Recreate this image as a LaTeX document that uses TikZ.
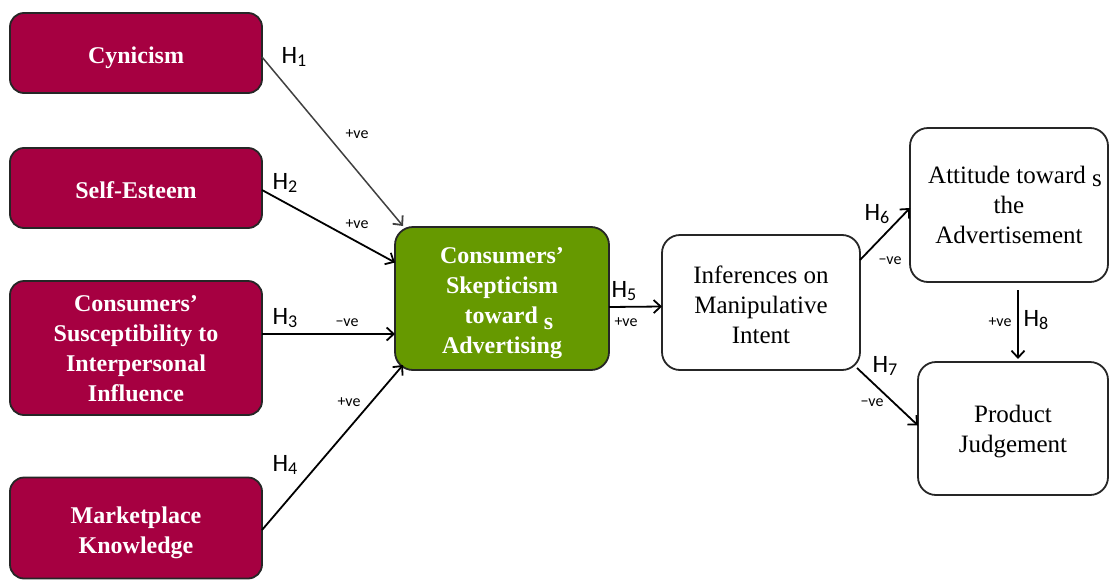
\documentclass[tikz,border=0pt]{standalone}
\usepackage{fontspec}
\setmainfont{Liberation Serif}
\newfontfamily\hfont{Carlito}
\usetikzlibrary{arrows.meta,calc}
\definecolor{maroon}{RGB}{166,0,65}
\definecolor{leaf}{RGB}{102,153,0}
\newcommand{\hyp}[1]{{\hfont\fontsize{25}{25}\selectfont H\raisebox{-3.5pt}{\fontsize{18}{18}\selectfont #1}}}
\tikzset{
  box/.style={draw=black!85, line width=1.8pt, rounded corners=14pt, inner sep=0pt, outer sep=0pt},
  cause/.style={box, fill=maroon},
  core/.style={box, fill=leaf, rounded corners=18pt},
  effect/.style={box, fill=white, rounded corners=18pt},
  boldtxt/.style={text=white, align=center, inner sep=0pt, font=\fontsize{24}{30}\selectfont\bfseries},
  plaintxt/.style={text=black, align=center, inner sep=0pt, font=\fontsize{25}{30}\selectfont},
  arr/.style={line width=1.8pt, -{Straight Barb[length=7pt,width=13pt,line width=1.8pt]}},
  sign/.style={font=\hfont\fontsize{16}{16}\selectfont, inner sep=0pt},
  hlab/.style={inner sep=0pt}
}
\begin{document}
\begin{tikzpicture}[x=1pt,y=-1pt]
\useasboundingbox (0,0) rectangle (1111,581);

% antecedents
\node[cause, minimum width=252, minimum height=80,
  label={[boldtxt, yshift=-5pt]center:Cynicism}] (cyn) at (136,53) {};
\node[cause, minimum width=252, minimum height=80,
  label={[boldtxt, yshift=-2pt]center:Self-Esteem}] (self) at (136,188) {};
\node[cause, minimum width=252, minimum height=134,
  label={[boldtxt, yshift=-1pt]center:{Consumers'\\Susceptibility to\\Interpersonal\\Influence}}] (susc) at (136,348) {};
\node[cause, minimum width=252, minimum height=101,
  label={[boldtxt, yshift=-5pt]center:{Marketplace\\Knowledge}}] (mkt) at (136,528) {};

% central construct
\node[core, minimum width=214, minimum height=143,
  label={[boldtxt, yshift=-5pt]center:{Consumers'\\Skepticism\\\hspace*{14pt}toward \raisebox{-6pt}{s}\\Advertising}}]
  (skep) at (502,298.5) {};

% outcomes
\node[effect, minimum width=198, minimum height=135,
  label={[plaintxt, yshift=-2pt]center:{Inferences on\\Manipulative\\Intent}}] (inf) at (761,302.5) {};
\node[effect, minimum width=198, minimum height=154,
  label={[plaintxt, yshift=0pt]center:{\hspace*{12pt}Attitude toward \raisebox{-3pt}{s}\\the\\Advertisement}}]
  (att) at (1009,205) {};
\node[effect, minimum width=190, minimum height=133,
  label={[plaintxt, yshift=-3pt]center:{Product\\Judgement}}] (prod) at (1013,428.5) {};

% paths
\draw[arr, black!75, line width=1.5pt] ($(cyn.east)+(0,4)$) -- ($(skep.north west)+(8,-1)$);
\draw[arr] ($(self.east)+(0,2)$) -- ($(skep.west)+(0,-36)$);
\draw[arr] ($(susc.east)+(0,-14)$) -- ($(skep.west)+(0,35.5)$);
\draw[arr] ($(mkt.east)+(0,2)$) -- ($(skep.south west)+(8,-5)$);
\draw[arr] ($(skep.east)+(0,8.5)$) -- ($(inf.west)+(0,4)$);
\draw[arr] ($(inf.north east)+(0,25)$) -- ($(att.west)+(0,3)$);
\draw[arr] ($(inf.south east)+(-3,-2)$) -- ($(prod.west)+(0,-3)$);
\draw[arr] ($(att.south)+(9,8)$) -- ($(prod.north)+(5,-3)$);

% hypothesis labels
\node[hlab] (h1) at (294,57) {\hyp{1}};
\node[hlab] (h2) at (285,183) {\hyp{2}};
\node[hlab] (h3) at (285,318) {\hyp{3}};
\node[hlab] (h4) at (285,465) {\hyp{4}};
\node[hlab] (h5) at (624,291) {\hyp{5}};
\node[hlab] (h6) at (877,214) {\hyp{6}};
\node[hlab] (h7) at (885,366) {\hyp{7}};
\node[hlab] (h8) at (1036,320) {\hyp{8}};

% signs
\node[sign] (s1) at (357,134) {+ve};
\node[sign] (s2) at (357,224) {+ve};
\node[sign] (s3) at (347,323) {−ve};
\node[sign] (s4) at (349,402) {+ve};
\node[sign] (s5) at (626,322) {+ve};
\node[sign] (s6) at (890,261) {−ve};
\node[sign] (s7) at (872,403) {−ve};
\node[sign] (s8) at (1000,322) {+ve};
\end{tikzpicture}
\end{document}
